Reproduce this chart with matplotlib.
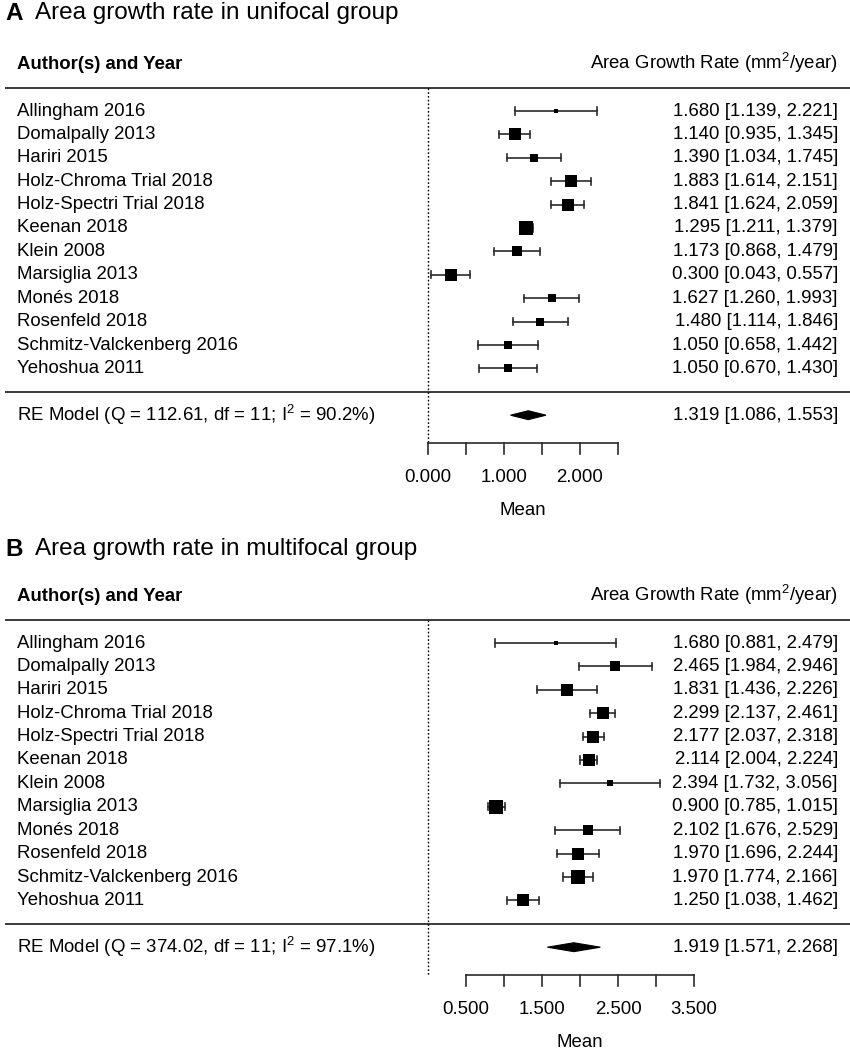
import matplotlib
matplotlib.use('Agg')
import matplotlib.pyplot as plt
from matplotlib.patches import Polygon

plt.rcParams['font.family'] = ['Liberation Sans', 'DejaVu Sans']
plt.rcParams['mathtext.fontset'] = 'custom'
plt.rcParams['mathtext.rm'] = 'Liberation Sans'
plt.rcParams['mathtext.it'] = 'Liberation Sans:italic'
plt.rcParams['mathtext.bf'] = 'Liberation Sans:bold'

# ---------------- data ----------------
studies = ['Allingham 2016', 'Domalpally 2013', 'Hariri 2015', 'Holz-Chroma Trial 2018',
           'Holz-Spectri Trial 2018', 'Keenan 2018', 'Klein 2008', 'Marsiglia 2013',
           'Monés 2018', 'Rosenfeld 2018', 'Schmitz-Valckenberg 2016', 'Yehoshua 2011']

# Panel A: unifocal
est_a = [1.680, 1.140, 1.390, 1.883, 1.841, 1.295, 1.173, 0.300, 1.627, 1.480, 1.050, 1.050]
lo_a = [1.139, 0.935, 1.034, 1.614, 1.624, 1.211, 0.868, 0.043, 1.260, 1.114, 0.658, 0.670]
hi_a = [2.221, 1.345, 1.745, 2.151, 2.059, 1.379, 1.479, 0.557, 1.993, 1.846, 1.442, 1.430]
weight_a = [4, 12, 8, 11, 11, 14, 9, 11, 8.5, 8.5, 7, 8]
re_a = [1.319, 1.086, 1.553]
q_a, df_a, i2_a = '112.61', '11', '90.2'
ticks_a = [0.0, 0.5, 1.0, 1.5, 2.0, 2.5]
ticklabels_a = [0.0, 1.0, 2.0]

# Panel B: multifocal
est_b = [1.680, 2.465, 1.831, 2.299, 2.177, 2.114, 2.394, 0.900, 2.102, 1.970, 1.970, 1.250]
lo_b = [0.881, 1.984, 1.436, 2.137, 2.037, 2.004, 1.732, 0.785, 1.676, 1.696, 1.774, 1.038]
hi_b = [2.479, 2.946, 2.226, 2.461, 2.318, 2.224, 3.056, 1.015, 2.529, 2.244, 2.166, 1.462]
weight_b = [3, 9, 10.5, 12, 11, 12, 6, 12.5, 9, 10.5, 12.5, 12]
re_b = [1.919, 1.571, 2.268]
q_b, df_b, i2_b = '374.02', '11', '97.1'
ticks_b = [0.5, 1.0, 1.5, 2.0, 2.5, 3.0, 3.5]
ticklabels_b = [0.5, 1.5, 2.5, 3.5]

# ---------------- layout ----------------
W, H = 850, 1050
fig = plt.figure(figsize=(W / 100, H / 100), dpi=100)
SP = 23.4          # row spacing in px
X0, PXU = 428, 76  # px of x=0, px per unit
FS = 13.4
LC = '#2b2b2b'


def panel(top, height, letter, title, est, lo, hi, wt, re, q, df, i2, ticks, tlabels, title_off):
    ax = fig.add_axes([0, 1 - (top + height) / H, 1, height / H])
    ax.set_xlim(-X0 / PXU, (W - X0) / PXU)
    ax.set_ylim((height - 111) / SP, -111 / SP)
    ax.axis('off')
    tr = ax.get_yaxis_transform()
    n = len(studies)

    # title
    ax.text(5 / W, title_off / SP, letter, transform=tr, fontsize=17.5, fontweight='bold',
            ha='left', va='center')
    ax.text(35 / W, title_off / SP, title, transform=tr, fontsize=17.5, ha='left', va='center')

    # header
    ax.text(17 / W, -2, 'Author(s) and Year', transform=tr, fontsize=FS, fontweight='bold',
            ha='left', va='center')
    ax.text(838 / W, -2.05, r'Area Growth Rate (mm$^2$/year)', transform=tr, fontsize=FS,
            ha='right', va='center')

    # separators
    for yy in (-1, n):
        ax.plot([5 / W, 1], [yy, yy], transform=tr, color=LC, lw=1.3, solid_capstyle='butt')

    axis_row = 14.2
    ax.plot([0, 0], [-1, axis_row], color='black', lw=1.0, linestyle=(0, (1.2, 1.5)))

    cap = 0.15
    for i in range(n):
        ax.plot([lo[i], hi[i]], [i, i], color=LC, lw=1.2)
        ax.plot([lo[i], lo[i]], [i - cap, i + cap], color=LC, lw=1.2)
        ax.plot([hi[i], hi[i]], [i - cap, i + cap], color=LC, lw=1.2)
        ax.plot([est[i]], [i], marker='s', color='black', markersize=wt[i] * 0.76,
                markeredgewidth=0, linestyle='none')
        ax.text(17 / W, i, studies[i], transform=tr, fontsize=FS, ha='left', va='center')
        ax.text(838 / W, i, f'{est[i]:.3f} [{lo[i]:.3f}, {hi[i]:.3f}]', transform=tr,
                fontsize=FS, ha='right', va='center')

    # RE model
    ry = n + 1
    dh = 0.19
    ax.add_patch(Polygon([[re[1], ry], [re[0], ry - dh], [re[2], ry], [re[0], ry + dh]],
                         closed=True, facecolor='black', edgecolor='black', lw=0.8))
    ax.text(17 / W, ry, f'RE Model (Q = {q}, df = {df}; I$^2$ = {i2}%)', transform=tr,
            fontsize=FS, ha='left', va='center')
    ax.text(838 / W, ry, f'{re[0]:.3f} [{re[1]:.3f}, {re[2]:.3f}]', transform=tr,
            fontsize=FS, ha='right', va='center')

    # x axis
    ax.plot([ticks[0], ticks[-1]], [axis_row, axis_row], color=LC, lw=1.2)
    for t in ticks:
        ax.plot([t, t], [axis_row, axis_row + 0.47], color=LC, lw=1.2)
    for t in tlabels:
        ax.text(t, 15.67, f'{t:.3f}', fontsize=FS, ha='center', va='center')
    ax.text((ticks[0] + ticks[-1]) / 2, 17.07, 'Mean', fontsize=FS, ha='center', va='center')


panel(0, 532, 'A', 'Area growth rate in unifocal group', est_a, lo_a, hi_a, weight_a, re_a,
      q_a, df_a, i2_a, ticks_a, ticklabels_a, -98)
panel(532, 518, 'B', 'Area growth rate in multifocal group', est_b, lo_b, hi_b, weight_b, re_b,
      q_b, df_b, i2_b, ticks_b, ticklabels_b, -94)

fig.savefig('out.png', dpi=100)
